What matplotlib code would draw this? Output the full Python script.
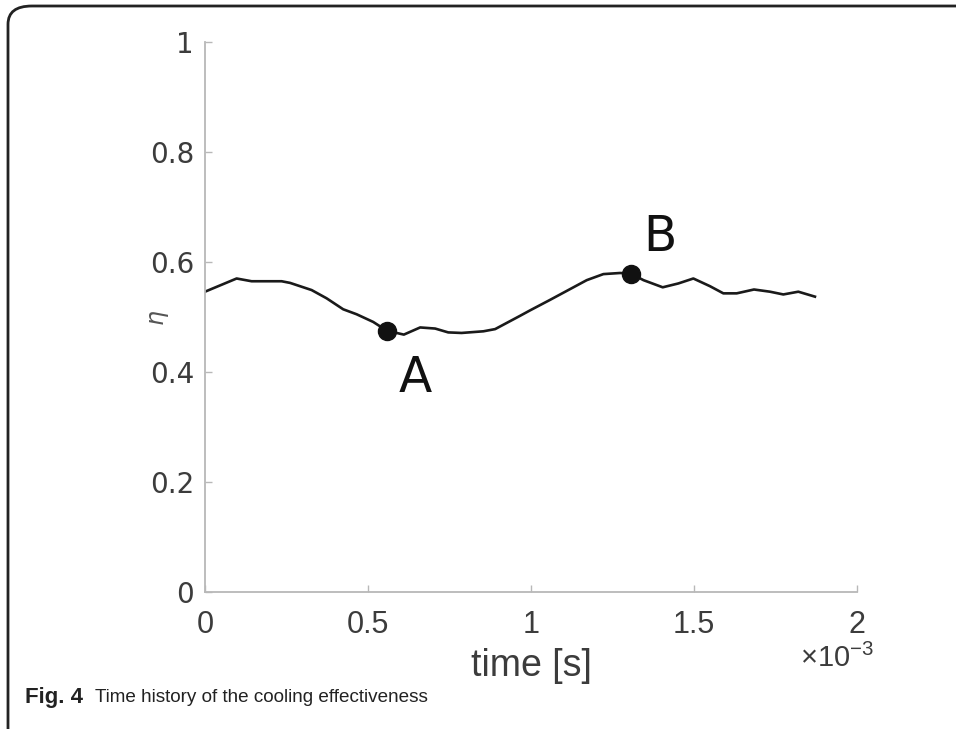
import numpy as np
import matplotlib
matplotlib.use("Agg")
import matplotlib.pyplot as plt
from matplotlib.patches import FancyBboxPatch

# cooling effectiveness vs time (time in units of 1e-3 s)
t_ms = [0.0, 0.097, 0.143, 0.235, 0.261, 0.327, 0.373, 0.424, 0.465, 0.516,
        0.558, 0.610, 0.660, 0.706, 0.746, 0.787, 0.854, 0.890, 0.966, 0.997,
        1.058, 1.171, 1.222, 1.273, 1.306, 1.345, 1.404, 1.452, 1.498, 1.549,
        1.590, 1.631, 1.684, 1.733, 1.774, 1.820, 1.871]
eta = [0.546, 0.570, 0.565, 0.565, 0.562, 0.549, 0.534, 0.514, 0.505, 0.491,
       0.475, 0.468, 0.481, 0.479, 0.472, 0.471, 0.474, 0.478, 0.502, 0.512,
       0.531, 0.567, 0.578, 0.580, 0.579, 0.567, 0.554, 0.561, 0.570, 0.556,
       0.543, 0.543, 0.550, 0.546, 0.541, 0.546, 0.537]

# marked instants
pt_names = ["A", "B"]
pt_t = [0.558, 1.306]
pt_eta = [0.475, 0.579]
lbl_t = [0.644, 1.396]
lbl_eta = [0.389, 0.646]

xticks = [0, 0.5, 1, 1.5, 2]
xticklabels = ["0", "0.5", "1", "1.5", "2"]
yticks = [0, 0.2, 0.4, 0.6, 0.8, 1]
yticklabels = ["0", "0.2", "0.4", "0.6", "0.8", "1"]

narrow = ["Liberation Sans Narrow", "Liberation Sans", "DejaVu Sans"]
axis_grey = "#b8b8b8"
text_grey = "#3c3c3c"

W, H = 956, 729
fig = plt.figure(figsize=(W / 100, H / 100), dpi=100)

# page frame with rounded corners
frame = FancyBboxPatch((8 / W, -0.2), 1.2, (H - 6) / H + 0.2,
                       boxstyle="round,pad=0,rounding_size=0.025",
                       transform=fig.transFigure, fill=False,
                       edgecolor="#222222", linewidth=2.0)
fig.patches.append(frame)

ax = fig.add_axes([205 / W, 1 - 592 / H, 652 / W, 550 / H])
ax.plot(t_ms, eta, color="#1a1a1a", linewidth=1.9)
ax.plot(pt_t, pt_eta, "o", color="#111111", markersize=13)
for name, x, y in zip(pt_names, lbl_t, lbl_eta):
    ax.text(x, y, name, fontsize=35, color="#111111", ha="center", va="center",
            family="DejaVu Sans")

ax.set_xlim(0, 2)
ax.set_ylim(0, 1)
for s in ["top", "right"]:
    ax.spines[s].set_visible(False)
for s in ["left", "bottom"]:
    ax.spines[s].set_color(axis_grey)
    ax.spines[s].set_linewidth(1.3)

ax.set_xticks(xticks)
ax.set_xticklabels(xticklabels, family=narrow, fontsize=22, color=text_grey)
ax.set_yticks(yticks)
ax.set_yticklabels(yticklabels, family="DejaVu Sans", fontsize=20, color=text_grey)
ax.tick_params(direction="in", length=5, width=1, color=axis_grey)
ax.tick_params(axis="x", pad=13)
ax.tick_params(axis="y", pad=8)

ax.set_xlabel("time [s]", family=narrow, fontsize=27, color=text_grey, labelpad=6)
ax.set_ylabel(r"$\eta$", fontsize=17, color="#555555", rotation=90)
ax.yaxis.set_label_coords(-0.052, 0.498)
ax.text(0.913, -0.094, r"$\mathregular{\times10^{-3}}$", transform=ax.transAxes,
        family=narrow, fontsize=21, color=text_grey, ha="left", va="top")

# caption
fig.text(25 / W, 1 - 697 / H, "Fig. 4", family=narrow, fontsize=16,
         fontweight="bold", color="#222222", va="center")
fig.text(95 / W, 1 - 697 / H, "Time history of the cooling effectiveness",
         family=narrow, fontsize=13.6, color="#222222", va="center")

fig.savefig("out.png", dpi=100)
